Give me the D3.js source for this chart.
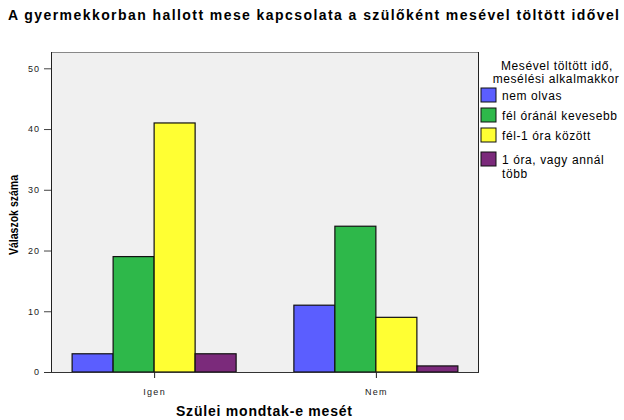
<!DOCTYPE html>
<html><head><meta charset="utf-8">
<script src="https://cdn.jsdelivr.net/npm/d3@7"></script>
<style>body{margin:0;background:#fff}svg{display:block}text{font-family:"Liberation Sans",Arial,sans-serif}</style>
</head><body>
<script>
const categories = ["Igen", "Nem"];
const seriesNames = ["nem olvas", "fél óránál kevesebb", "fél-1 óra között", "1 óra, vagy annál több"];
const nemOlvas = [3, 11];
const felOranalKevesebb = [19, 24];
const fel1OraKozott = [41, 9];
const egyOraVagyTobb = [3, 1];
const yTicks = [0, 10, 20, 30, 40, 50];
const colors = ["#5b5eff", "#2eb84a", "#ffff33", "#7b2a7b"];
const seriesValues = [nemOlvas, felOranalKevesebb, fel1OraKozott, egyOraVagyTobb];

const W = 624, H = 420;
const L = 51, R = 479, T = 52, B = 372;
const svg = d3.select("body").append("svg").attr("width", W).attr("height", H);

svg.append("text").attr("x", 8).attr("y", 20).attr("font-weight", "bold").attr("font-size", 14)
  .attr("textLength", 611).attr("lengthAdjust", "spacing")
  .text("A gyermekkorban hallott mese kapcsolata a szülőként mesével töltött idővel");

const y = d3.scaleLinear().domain([0, 50]).range([B, 68.3]);
const x = d3.scalePoint().domain(categories).range([L, R]).padding(0.465);
const xs = d3.scaleBand().domain(seriesNames).range([-82, 82]);

svg.append("rect").attr("x", L).attr("y", T).attr("width", R - L).attr("height", B - T)
  .attr("fill", "#f0f0f0").attr("stroke", "none");
svg.append("line").attr("x1", L).attr("x2", R).attr("y1", T + 0.5).attr("y2", T + 0.5).attr("stroke", "#888");
svg.append("line").attr("x1", R - 0.5).attr("x2", R - 0.5).attr("y1", T).attr("y2", B).attr("stroke", "#222");

const data = [];
categories.forEach((c, i) => seriesNames.forEach((s, j) => data.push({c, s, v: seriesValues[j][i], col: colors[j]})));

svg.append("g").selectAll("rect").data(data).join("rect")
  .attr("x", d => x(d.c) + xs(d.s))
  .attr("width", xs.bandwidth())
  .attr("y", d => y(d.v))
  .attr("height", d => B - y(d.v))
  .attr("fill", d => d.col).attr("stroke", "#111").attr("stroke-width", 1.2);

const yAxis = svg.append("g").attr("transform", `translate(${L},0)`)
  .call(d3.axisLeft(y).tickValues(yTicks).tickSize(7).tickPadding(4));
yAxis.select(".domain").attr("stroke", "#222").attr("d", `M0.5,${T}V${B}`);
yAxis.selectAll(".tick line").attr("stroke", "#444");
yAxis.selectAll("text").attr("font-size", 9).attr("fill", "#222").attr("letter-spacing", 1)
  .style("font-family", "'Liberation Sans',Arial,sans-serif");

const xAxis = svg.append("g").attr("transform", `translate(0,${B})`)
  .call(d3.axisBottom(x).tickSize(6).tickPadding(11));
xAxis.select(".domain").attr("stroke", "#333").attr("d", `M${L - 7},0.5H${R}`);
xAxis.selectAll(".tick line").attr("stroke", "#222");
xAxis.selectAll("text").attr("font-size", 9).attr("fill", "#222").attr("letter-spacing", 1.3)
  .style("font-family", "'Liberation Sans',Arial,sans-serif");

svg.append("text").attr("x", 176).attr("y", 416)
  .attr("font-weight", "bold").attr("font-size", 14).attr("textLength", 176).attr("lengthAdjust", "spacing")
  .text("Szülei mondtak-e mesét");
svg.append("text").attr("transform", "translate(18,255) rotate(-90)")
  .attr("font-weight", "bold").attr("font-size", 12)
  .attr("textLength", 80).attr("lengthAdjust", "spacingAndGlyphs")
  .text("Válaszok száma");

// legend
const lg = svg.append("g").attr("font-size", 12).attr("letter-spacing", 0.6);
lg.append("text").attr("x", 557).attr("y", 70).attr("text-anchor", "middle")
  .text("Mesével töltött idő,");
lg.append("text").attr("x", 556).attr("y", 83).attr("text-anchor", "middle")
  .text("mesélési alkalmakkor");
const swY = [88, 108, 128, 152];
const labelLines = [["nem olvas"], ["fél óránál kevesebb"], ["fél-1 óra között"], ["1 óra, vagy annál", "több"]];
seriesNames.forEach((s, i) => {
  lg.append("rect").attr("x", 481).attr("y", swY[i]).attr("width", 15).attr("height", 14)
    .attr("fill", colors[i]).attr("stroke", "#111").attr("stroke-width", 1);
  labelLines[i].forEach((t, k) => {
    lg.append("text").attr("x", 502).attr("y", swY[i] + 12 + k * 14).text(t);
  });
});
</script>
</body></html>
